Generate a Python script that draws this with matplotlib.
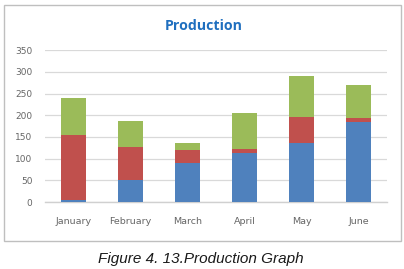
import matplotlib
matplotlib.use("Agg")
import matplotlib.pyplot as plt
from matplotlib.patches import Rectangle

months = ["January", "February", "March", "April", "May", "June"]
series_blue = [5, 50, 90, 113, 135, 185]
series_red = [150, 78, 30, 9, 60, 9]
series_green = [85, 59, 15, 83, 95, 76]
yticks = [0, 50, 100, 150, 200, 250, 300, 350]

fig = plt.figure(figsize=(4.04, 2.69), dpi=100)
fig.patch.set_facecolor("white")

# outer chart border
fig.add_artist(Rectangle((3.5/404, 1 - 240.5/269), (401-3.5)/404, (240.5-4.5)/269,
                         transform=fig.transFigure, fill=False, edgecolor="#BFBFBF", lw=1))

ax = fig.add_axes([45/404, 1 - 202/269, 342/404, 151.7/269])
x = range(len(months))
w = 0.43
ax.bar(x, series_blue, w, color="#4F81BD", zorder=3)
ax.bar(x, series_red, w, bottom=series_blue, color="#C0504D", zorder=3)
bottom2 = [a + b for a, b in zip(series_blue, series_red)]
ax.bar(x, series_green, w, bottom=bottom2, color="#9BBB59", zorder=3)

ax.set_xlim(-0.5, len(months) - 0.5)
ax.set_ylim(0, 350)
ax.set_yticks(yticks)
ax.set_yticklabels([str(v) for v in yticks], fontsize=6.5, color="#666666", family="DejaVu Sans")
ax.set_xticks(list(x))
ax.set_xticklabels(months, fontsize=6.8, color="#666666", family="DejaVu Sans")
ax.tick_params(axis="both", length=0)
ax.tick_params(axis="y", pad=9)
ax.tick_params(axis="x", pad=10.5)
ax.grid(axis="y", color="#D9D9D9", lw=0.9, zorder=0)
for s in ["top", "right", "left"]:
    ax.spines[s].set_visible(False)
ax.spines["bottom"].set_color("#D0D0D0")
ax.spines["bottom"].set_linewidth(1)

fig.text(203.5/404, 1 - 25.5/269, "Production", ha="center", va="center",
         fontsize=10.2, fontweight="bold", color="#1F6FBF", family="Open Sans")
fig.text(201/404, 1 - 259/269, "Figure 4. 13.Production Graph", ha="center", va="center",
         fontsize=11, style="italic", color="#1A1A1A", family="Liberation Sans")

fig.savefig("out.png", dpi=100)
